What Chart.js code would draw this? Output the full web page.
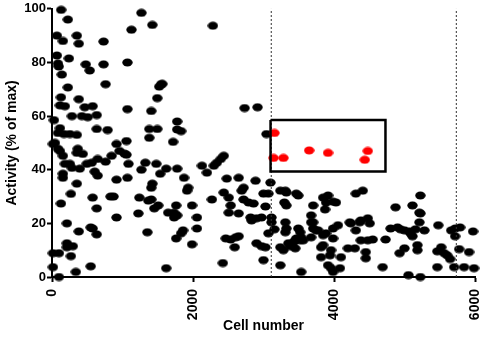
<!DOCTYPE html>
<html>
<head>
<meta charset="utf-8">
<script src="https://cdn.jsdelivr.net/npm/chart.js@4"></script>
<style>
  html, body { margin: 0; padding: 0; background: #fff; }
  #wrap { width: 484px; height: 337px; }
</style>
</head>
<body>
<div id="wrap"><canvas id="chart" width="484" height="337"></canvas></div>
<script>
// [cell number, activity %]
const blackPoints = [
  [130,99.6],[225,96],[70,90],[155,88],[352,90],[380,87],[240,81.5],[70,82.6],[85,79.6],[95,78.5],
  [140,75.5],[225,70.7],[127,67],[113,64],[183,63.7],[380,66.3],[282,60],[28,58.5],[113,55.5],[85,53.7],
  [170,53.3],[254,53.3],[352,53],[479,79.3],[535,77],[465,63.3],[577,63.7],[423,60],[507,59.6],[634,60.4],
  [634,55.2],[732,87.8],[732,79.3],[760,71.9],[789,54.8],[915,49.6],[1056,50.7],[1070,80],[1070,62.6],[1127,92.2],
  [1268,98.5],[1423,94],[1549,71.9],[1521,71],[1493,66.7],[1408,61.9],[1380,55.2],[1380,51.9],[1493,55.2],[42,50],
  [85,47.8],[366,47.8],
  [14,49.6],[113,47],[155,45.2],[183,42.2],[254,42.2],[282,40.7],[155,38.5],[155,37],
  [352,46.3],[437,45.9],[394,40.4],[352,34.8],[268,31],[127,27.4],[211,20],[380,17],[211,12.6],[211,11.1],
  [296,11.5],[268,7.8],[338,1.9],[14,8.9],[99,8.9],[14,3.7],[99,0],[493,42.2],[563,42.6],[648,44],
  [606,39.3],[648,37.8],[577,29.6],[634,25.6],[549,18.5],[577,18.1],[634,15.9],[549,4],[760,43],[845,45.2],
  [958,47],[1028,46],[1056,45.6],[1085,42.2],[1070,37],[915,36.3],[831,30],[873,30],[915,22.2],[1225,23.7],
  [1239,29.6],[1268,40],[1324,42.6],[1408,33.3],[1423,34.8],[1366,28.5],[1408,28.9],[1451,25.6],[1507,26.7],[1479,42.2],
  [1535,38.5],[1620,40.4],[1648,24],[1352,16.7],[1620,3.3],
  [2282,93.7],[1563,72],[1775,58],[1775,55],[1831,54.4],[1718,50.4],[2732,63],[2915,63.3],[3042,53.3],
  [2437,45.2],[2394,44],[2338,42.6],[2296,41.5],[2127,41.5],[2197,38.9],[1775,40.4],[1873,37],[1930,33.3],[1915,32.2],
  [1761,26.7],[1732,24],[1775,23],[1732,22.2],[1986,26.7],[2056,22.2],[2056,18.1],[1859,17.4],[1831,16.3],[1761,14.4],
  [1986,12.2],[2268,28.9],[2479,36.7],[2648,37],[2718,33.3],[2690,32.2],[2437,31.5],[2507,29.6],[2535,26.7],[2507,24],
  [2648,23.7],[2718,28.9],[2789,27.8],[2859,27.4],[2887,35.9],[2817,22.2],[2831,21.1],[2901,21.9],[2972,22.2],[3028,26.3],
  [3000,31.1],[3070,31.1],[3099,35.2],[3113,22.2],[3113,20.4],[3155,17.8],[3070,16.3],[2465,14.4],[2535,14],[2606,14.8],
  [2648,15.2],[2592,11.1],[2901,12.6],[2972,11.5],[3028,11.1],[2423,5.2],[3000,6.3],[3239,32.2],[3310,32.2],[3324,31.5],
  [3465,31.1],[3493,30.4],[3296,27.8],[3324,26.7],[3704,26.7],[3676,23],[3676,20.4],[3310,20.4],[3324,18.1],[3310,16.7],
  [3493,18.1],[3521,16.7],[3535,14.8],[3465,14.4],[3451,13.7],[3423,13],[3394,11.9],[3352,12.6],[3380,11.5],[3451,10.7],
  [3521,13.7],[3563,13.7],[3239,11.1],[3282,10],[3239,4.4],[3535,1.9],[3704,18.1],[3746,17.4],[3676,14.8],[3817,11.1],
  [3817,7.4],
  [3845,29.6],[3915,30.4],[3887,27.8],[3873,25.2],[3986,28.1],[4028,27.8],[4310,31.1],[4408,32.2],[3704,20.4],[3775,17.4],
  [3845,15.6],[3887,16.3],[3986,18.1],[4056,19.3],[3986,14.4],[3845,11.9],[3958,10],[3944,8.1],[4099,7.4],[3915,4.4],
  [3958,3.3],[4085,3.3],[3986,1.9],[4225,20.4],[4239,20],[4310,17.4],[4366,20.4],[4380,21.1],[4479,21.9],[4507,20],
  [4380,13.7],[4479,13.7],[4549,14],[4197,10.7],[4296,10.7],[4451,9.3],[4451,7],[4690,3.7],[4732,14],[4873,26],
  [4803,18.1],[4901,18.5],[4944,17.8],[5000,17.4],[5070,17],[5113,26.7],[5225,30.4],[5211,24],[5225,23.7],[5211,20.4],
  [5113,15.2],[5085,16.3],[5155,17.8],[5282,17.4],[5000,10.7],[4930,8.9],[5183,11.9],[5183,10],[5056,0.7],[5225,0],
  [5479,19.3],[5465,9.6],[5521,11.1],[5563,8.9],[5606,8.1],[5465,3.7],[5648,6.7],[5704,3.7],[5845,3.7],[5986,3.3],
  [5662,17.4],[5718,18.1],[5789,18.5],[5718,15.2],[5775,10.4],[5915,9.3],[5972,17]
];
const redPoints = [[3155,53.7],[3141,44.4],[3282,44.4],[3648,47.2],[3915,46.3],[4479,47],[4437,43.7]];

const boxX = [3100, 4730, 4730, 3100, 3100];
const boxY = [58.5, 58.5, 39.3, 39.3, 58.5];
const dividerCells = [3110, 5735];

const xTicks = [0, 2000, 4000, 6000];
const yTicks = [0, 20, 40, 60, 80, 100];

function dot(color) {
    const c = document.createElement('canvas');
    c.width = 11; c.height = 9;
    const g = c.getContext('2d');
    g.fillStyle = color;
    g.beginPath();
    g.ellipse(5.5, 4.5, 5.2, 4, 0, 0, Math.PI * 2);
    g.fill();
    return c;
}

const toXY = pts => pts.map(p => ({ x: p[0], y: p[1] }));
const fontFamily = 'Arial, "Liberation Sans", sans-serif';

const datasets = [
    {
        data: boxX.map((x, i) => ({ x: x, y: boxY[i] })),
        showLine: true, borderColor: '#000', borderWidth: 2.5, pointRadius: 0, tension: 0, clip: false
    },
    {
        data: toXY(redPoints),
        pointStyle: dot('#ff0000'), pointRadius: 5, clip: false
    }
];
dividerCells.forEach(x => {
    datasets.push({
        data: [{ x: x, y: 0 }, { x: x, y: 100 }],
        showLine: true, borderColor: '#333', borderWidth: 1, borderDash: [2, 2], pointRadius: 0
    });
});
datasets.push({
    data: toXY(blackPoints),
    pointStyle: dot('#000'), pointRadius: 5, clip: false
});

new Chart(document.getElementById('chart').getContext('2d'), {
    type: 'scatter',
    data: { datasets: datasets },
    options: {
        responsive: false,
        animation: false,
        events: [],
        layout: { padding: { top: 7, right: 0, left: 0, bottom: 0 } },
        plugins: { legend: { display: false }, tooltip: { enabled: false } },
        scales: {
            x: {
                type: 'linear', min: 0, max: 6000,
                afterBuildTicks: axis => { axis.ticks = xTicks.map(v => ({ value: v })); },
                afterFit: axis => { axis.height = 60; axis.paddingRight = 9; },
                ticks: {
                    color: '#000', font: { family: fontFamily, size: 14, weight: 'bold' },
                    minRotation: 90, maxRotation: 90, padding: 7,
                    callback: v => String(v)
                },
                grid: { drawOnChartArea: false, drawTicks: true, tickLength: 5, tickWidth: 2, tickColor: '#000' },
                border: { display: true, color: '#000', width: 2 },
                title: {
                    display: true, text: 'Cell number', color: '#000',
                    font: { family: fontFamily, size: 14, weight: 'bold' },
                    padding: { top: 0, bottom: 2 }
                }
            },
            y: {
                type: 'linear', min: 0, max: 100,
                afterBuildTicks: axis => { axis.ticks = yTicks.map(v => ({ value: v })); },
                afterFit: axis => { axis.width = 52; },
                ticks: {
                    color: '#000', font: { family: fontFamily, size: 13, weight: 'bold' },
                    padding: 1, callback: v => String(v)
                },
                grid: { drawOnChartArea: false, drawTicks: true, tickLength: 5, tickWidth: 2, tickColor: '#000' },
                border: { display: true, color: '#000', width: 2 },
                title: {
                    display: true, text: 'Activity (% of max)', color: '#000',
                    font: { family: fontFamily, size: 14, weight: 'bold' },
                    padding: { top: 4, bottom: 0 }
                }
            }
        }
    }
});
</script>
</body>
</html>
